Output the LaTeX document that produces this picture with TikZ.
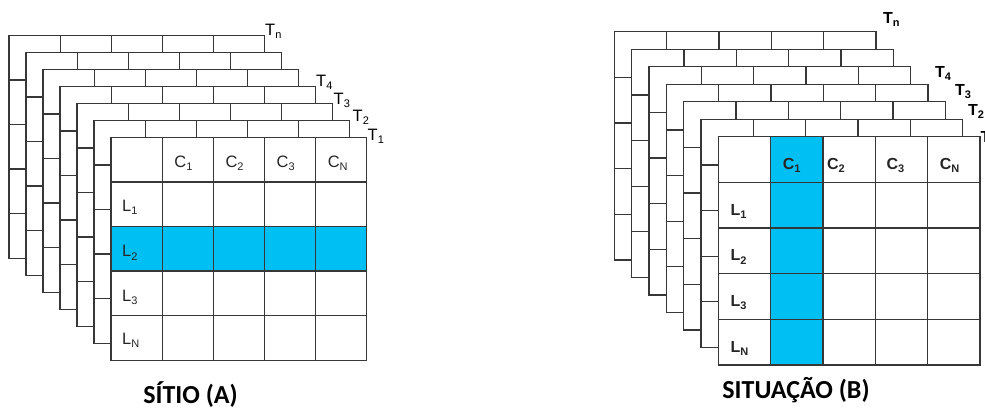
\documentclass[tikz,border=0pt]{standalone}
\usepackage{fontspec}
\setmainfont{Liberation Sans}
\newfontfamily\titlefont{Carlito}
\definecolor{hl}{RGB}{0,191,243}
\definecolor{ln}{RGB}{55,55,55}
\newcommand{\lowsub}[1]{\raisebox{-0.2em}{\fontsize{11}{13}\selectfont #1}}
\tikzset{
  gridline/.style={draw=ln, line width=1.3pt, line cap=rect},
  cellA/.style={anchor=base west, inner sep=0pt, font=\fontsize{16.5}{19}\selectfont, text=black!85},
  cellB/.style={anchor=base west, inner sep=0pt, font=\bfseries\fontsize{16}{19}\selectfont, text=black!85},
  tlabA/.style={anchor=base west, inner sep=0pt, font=\fontsize{16.5}{19}\selectfont},
  tlabB/.style={anchor=base west, inner sep=0pt, font=\bfseries\fontsize{16}{19}\selectfont},
  title/.style={anchor=base, inner sep=0pt, font=\titlefont\bfseries\fontsize{26}{30}\selectfont}
}
\newcommand{\layergrid}[2]{%
  \foreach \i in {0,...,5} \draw[gridline] (\i*#1,0) -- (\i*#1,5*#2);
  \foreach \j in {0,...,5} \draw[gridline] (0,\j*#2) -- (5*#1,\j*#2);
}
\begin{document}
\begin{tikzpicture}[x=1pt,y=-1pt]
\useasboundingbox (0,0) rectangle (985,413);
% ---------------- Stack A ----------------
\foreach \k in {6,5,4,3,2,1} {
  \pgfmathsetmacro\ox{111-17*\k}
  \pgfmathsetmacro\oy{137.3-17*\k}
  \begin{scope}[shift={(\ox,\oy)}]
    \fill[white] (0,0) rectangle (5*51.15,5*44.6);
    \layergrid{51.15}{44.6}
  \end{scope}
}
\begin{scope}[shift={(111,137.3)}]
  \fill[white] (0,0) rectangle (5*51.15,5*44.6);
  \fill[hl] (0,2*44.6) rectangle (5*51.15,3*44.6);
  \layergrid{51.15}{44.6}
  \node[cellA] (a-c1) at (1*51.15+12,30) {C\lowsub{1}};
  \node[cellA] (a-c2) at (2*51.15+12,30) {C\lowsub{2}};
  \node[cellA] (a-c3) at (3*51.15+12,30) {C\lowsub{3}};
  \node[cellA] (a-cn) at (4*51.15+12,30) {C\lowsub{N}};
  \node[cellA] (a-l1) at (11,1.5*44.6+7) {L\lowsub{1}};
  \node[cellA] (a-l2) at (11,2.5*44.6+8) {L\lowsub{2}};
  \node[cellA] (a-l3) at (11,3.5*44.6+8) {L\lowsub{3}};
  \node[cellA] (a-ln) at (11,4.5*44.6+6) {L\lowsub{N}};
\end{scope}
\node[tlabA] (a-tn) at (265,35.5) {T\lowsub{n}};
\node[tlabA] (a-t4) at (316,86.5) {T\lowsub{4}};
\node[tlabA] (a-t3) at (333.5,104) {T\lowsub{3}};
\node[tlabA] (a-t2) at (352.5,121.5) {T\lowsub{2}};
\node[tlabA] (a-t1) at (367.5,140.5) {T\lowsub{1}};
\node[title] (titleA) at (190.5,403) {SÍTIO (A)};
% ---------------- Stack B ----------------
\foreach \k in {6,5,4,3,2,1} {
  \pgfmathsetmacro\ox{718.3-17.33*\k}
  \pgfmathsetmacro\oy{136.7-17.5*\k}
  \begin{scope}[shift={(\ox,\oy)}]
    \fill[white] (0,0) rectangle (5*52.34,5*45.66);
    \layergrid{52.34}{45.66}
  \end{scope}
}
\begin{scope}[shift={(718.3,136.7)}]
  \fill[white] (0,0) rectangle (5*52.34,5*45.66);
  \fill[hl] (52.34,0) rectangle (2*52.34,5*45.66);
  \layergrid{52.34}{45.66}
  \node[cellB] (b-c1) at (1*52.34+12,33) {C\lowsub{1}};
  \node[cellB] (b-c2) at (2*52.34+4,33) {C\lowsub{2}};
  \node[cellB] (b-c3) at (3*52.34+11,33) {C\lowsub{3}};
  \node[cellB] (b-cn) at (4*52.34+12,33) {C\lowsub{N}};
  \node[cellB] (b-l1) at (12,1.5*45.66+10) {L\lowsub{1}};
  \node[cellB] (b-l2) at (12,2.5*45.66+10) {L\lowsub{2}};
  \node[cellB] (b-l3) at (12,3.5*45.66+10) {L\lowsub{3}};
  \node[cellB] (b-ln) at (12,4.5*45.66+10) {L\lowsub{N}};
\end{scope}
\node[tlabB] (b-tn) at (883,23) {T\lowsub{n}};
\node[tlabB] (b-t4) at (935,77) {T\lowsub{4}};
\node[tlabB] (b-t3) at (955,95.5) {T\lowsub{3}};
\node[tlabB] (b-t2) at (968,115) {T\lowsub{2}};
\node[tlabB] (b-t1) at (980.5,142) {T\lowsub{1}};
\node[title] (titleB) at (796,398) {SITUAÇÃO (B)};
\end{tikzpicture}
\end{document}
